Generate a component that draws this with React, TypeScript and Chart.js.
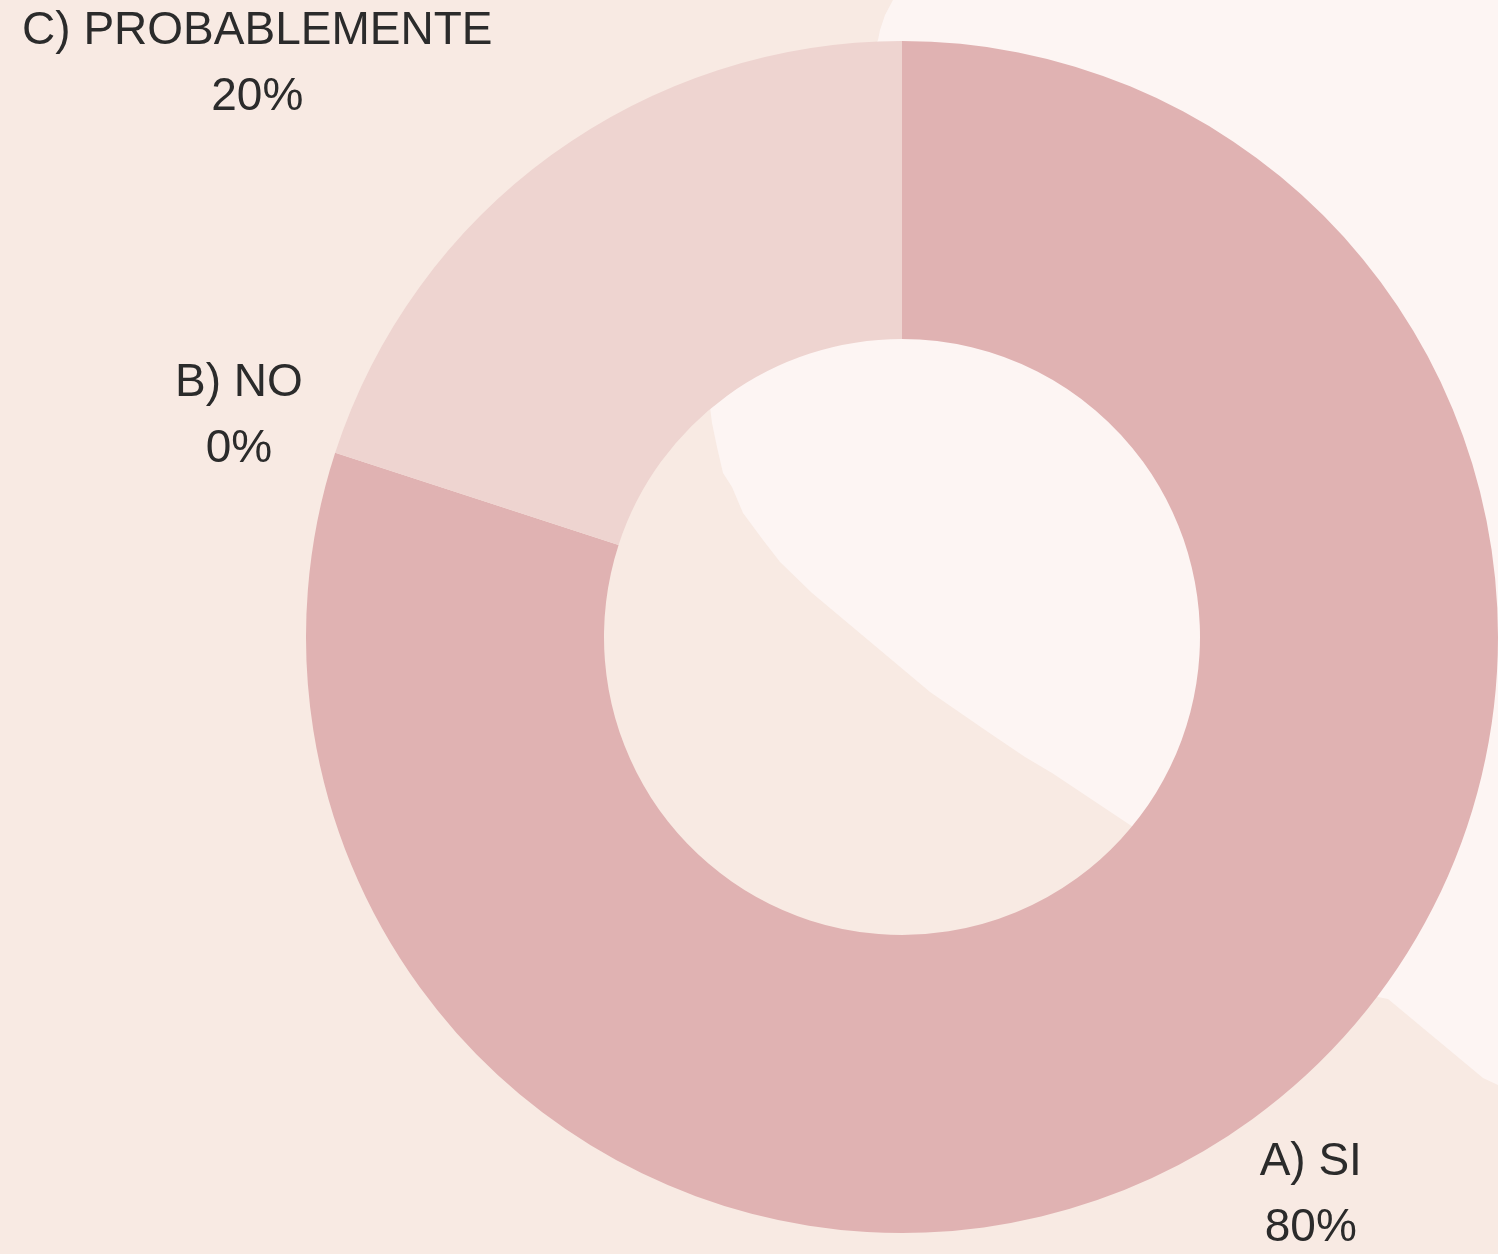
import React, { useEffect, useRef } from "react";
import { Chart, registerables } from "chart.js";

Chart.register(...registerables);

const categories = ["A) SI", "B) NO", "C) PROBABLEMENTE"];
const values = [80, 0, 20];
const percentLabels = ["80%", "0%", "20%"];
const sliceColors = ["#E0B2B2", "#E0B2B2", "#EED4D0"];

const BG_LIGHT = "#FDF5F3";
const BG_BEIGE = "#F8EAE3";
const TEXT = "#2B2B2B";
const FONT = '"Liberation Sans", Arial, sans-serif';

// label nudges relative to position on the ray through the arc middle
const labelNudge = [
  [2, -3],
  [-5, -8],
  [-238, -14],
];

const backgroundPlugin = {
  id: "bgShape",
  beforeDraw(chart: any) {
    const { ctx, width, height } = chart;
    ctx.save();
    ctx.fillStyle = BG_LIGHT;
    ctx.fillRect(0, 0, width, height);
    const pts = [
      [0, 0], [893, 0], [885, 15], [880, 30], [878, 40], [850, 100], [800, 190],
      [760, 270], [728, 340], [710, 407], [712, 423], [717, 447], [723, 473],
      [732, 487], [743, 513], [763, 540], [780, 562], [812, 593], [930, 692],
      [988, 732], [1025, 757], [1052, 773], [1097, 803], [1127, 823],
      [1250, 905], [1378, 997], [1388, 999], [1483, 1078], [1498, 1085],
      [width, height], [0, height],
    ];
    ctx.beginPath();
    pts.forEach((p, i) => (i ? ctx.lineTo(p[0], p[1]) : ctx.moveTo(p[0], p[1])));
    ctx.closePath();
    ctx.fillStyle = BG_BEIGE;
    ctx.fill();
    ctx.restore();
  },
};

const labelPlugin = {
  id: "outLabels",
  afterDatasetsDraw(chart: any) {
    const { ctx } = chart;
    const meta = chart.getDatasetMeta(0);
    ctx.save();
    ctx.fillStyle = TEXT;
    ctx.font = `46px ${FONT}`;
    ctx.textAlign = "center";
    ctx.textBaseline = "middle";
    meta.data.forEach((arc: any, i: number) => {
      const p = arc.getProps(["x", "y", "startAngle", "endAngle", "outerRadius"], true);
      const mid = (p.startAngle + p.endAngle) / 2;
      const r = p.outerRadius + 96;
      const cx = p.x + Math.cos(mid) * r + labelNudge[i][0];
      const cy = p.y + Math.sin(mid) * r + labelNudge[i][1];
      ctx.fillText(categories[i], cx, cy - 32);
      ctx.fillText(percentLabels[i], cx, cy + 34);
    });
    ctx.restore();
  },
};

export default function App() {
  const ref = useRef<HTMLCanvasElement | null>(null);
  useEffect(() => {
    document.body.style.margin = "0";
    const chart = new Chart(ref.current!, {
      type: "doughnut",
      data: {
        labels: categories,
        datasets: [
          {
            data: values,
            backgroundColor: sliceColors,
            borderWidth: 0,
          },
        ],
      },
      options: {
        animation: false,
        responsive: false,
        cutout: "50%",
        layout: { padding: { left: 306, top: 41, right: 0, bottom: 21 } },
        plugins: { legend: { display: false }, tooltip: { enabled: false } },
      },
      plugins: [backgroundPlugin, labelPlugin],
    });
    return () => chart.destroy();
  }, []);
  return <canvas ref={ref} width={1498} height={1254} style={{ display: "block" }} />;
}
